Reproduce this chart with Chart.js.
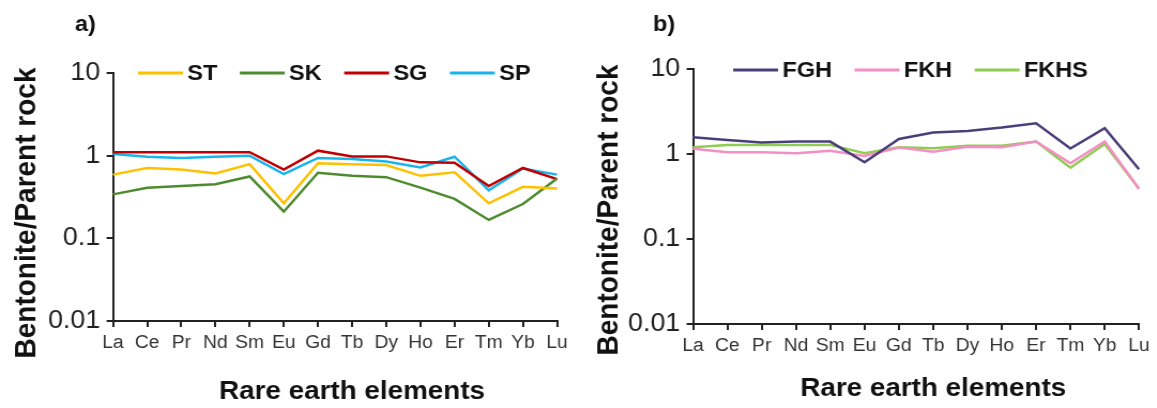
<!DOCTYPE html>
<html>
<head>
<meta charset="utf-8">
<script src="https://cdn.jsdelivr.net/npm/chart.js@4.4.1/dist/chart.umd.min.js"></script>
<style>
  html, body { margin: 0; padding: 0; background: #fff; width: 1157px; height: 408px; overflow: hidden; }
  /* the source figure is slightly stretched sideways, so each panel is drawn a bit narrow and scaled */
  .panel { position: absolute; top: 0; width: 541px; height: 408px; transform: scaleX(1.07); transform-origin: 0 0; }
  #panel-a { left: 0; }
  #panel-b { left: 578px; }
</style>
</head>
<body>
<div class="panel" id="panel-a"><canvas id="chart-a" width="541" height="408"></canvas></div>
<div class="panel" id="panel-b"><canvas id="chart-b" width="541" height="408"></canvas></div>
<script>
const elements = ["La", "Ce", "Pr", "Nd", "Sm", "Eu", "Gd", "Tb", "Dy", "Ho", "Er", "Tm", "Yb", "Lu"];
const yTicks = [0.01, 0.1, 1, 10];

// panel a
const stValues = [0.59, 0.71, 0.68, 0.61, 0.79, 0.265, 0.81, 0.79, 0.77, 0.57, 0.63, 0.265, 0.42, 0.40];
const skValues = [0.34, 0.41, 0.43, 0.45, 0.56, 0.21, 0.62, 0.57, 0.55, 0.41, 0.30, 0.167, 0.26, 0.53];
const sgValues = [1.10, 1.10, 1.10, 1.10, 1.10, 0.68, 1.15, 0.98, 0.98, 0.83, 0.82, 0.43, 0.71, 0.52];
const spValues = [1.05, 0.97, 0.94, 0.97, 1.00, 0.60, 0.94, 0.91, 0.85, 0.72, 0.97, 0.38, 0.70, 0.59];

// panel b
const fghValues = [1.57, 1.46, 1.37, 1.40, 1.40, 0.80, 1.50, 1.79, 1.87, 2.05, 2.30, 1.16, 2.01, 0.66];
const fkhValues = [1.15, 1.05, 1.05, 1.02, 1.09, 0.95, 1.19, 1.06, 1.22, 1.20, 1.40, 0.78, 1.40, 0.39];
const fkhsValues = [1.20, 1.28, 1.28, 1.28, 1.28, 1.02, 1.20, 1.17, 1.25, 1.25, 1.40, 0.69, 1.31, 0.39];

const textFont = "'Liberation Sans', Arial, sans-serif";

const lineLegend = {
  id: "lineLegend",
  afterDraw(chart, args, opts) {
    const ctx = chart.ctx;
    ctx.save();
    ctx.font = "bold 22px " + textFont;
    ctx.textBaseline = "middle";
    let x = opts.x;
    chart.data.datasets.forEach((ds) => {
      ctx.strokeStyle = ds.borderColor;
      ctx.lineWidth = 3;
      ctx.beginPath();
      ctx.moveTo(x, opts.y);
      ctx.lineTo(x + 42, opts.y);
      ctx.stroke();
      x += 46;
      ctx.fillStyle = "#111";
      ctx.fillText(ds.label, x, opts.y + 1);
      x += ctx.measureText(ds.label).width + 21;
    });
    ctx.restore();
  }
};

const panelText = {
  id: "panelText",
  afterDraw(chart, args, opts) {
    const ctx = chart.ctx;
    ctx.save();
    ctx.fillStyle = "#111";
    ctx.textAlign = "left";
    ctx.textBaseline = "middle";
    ctx.font = "bold 22px " + textFont;
    ctx.fillText(opts.label, opts.labelX, 25);

    ctx.textAlign = "center";
    ctx.font = "bold 26px " + textFont;
    ctx.fillText("Rare earth elements", opts.xTitleX, opts.xTitleY);

    ctx.translate(opts.yTitleX, opts.yTitleY);
    ctx.rotate(-Math.PI / 2);
    ctx.font = "bold 28px " + textFont;
    ctx.fillText("Bentonite/Parent rock", 0, 0);
    ctx.restore();
  }
};

function makePanel(canvasId, datasets, box, textOpts, legendOpts) {
  const ctx = document.querySelector(canvasId);
  const data = {
    labels: elements,
    datasets: datasets.map((d) => ({
      label: d.label,
      data: d.values,
      borderColor: d.color,
      backgroundColor: d.color,
      borderWidth: 2.5,
      pointRadius: 0,
      tension: 0,
      fill: false
    }))
  };
  const options = {
    responsive: false,
    animation: false,
    devicePixelRatio: 1,
    layout: {
      padding: { left: 0, top: box.top, right: 541 - box.right, bottom: 0 }
    },
    plugins: {
      legend: { display: false },
      tooltip: { enabled: false },
      lineLegend: legendOpts,
      panelText: textOpts
    },
    scales: {
      x: {
        type: "category",
        offset: false,
        afterFit: (scale) => { scale.height = 408 - box.bottom; },
        grid: { display: true, drawOnChartArea: false, drawTicks: true, tickLength: 6, color: "#222", lineWidth: 2 },
        border: { display: true, color: "#222", width: 2 },
        ticks: {
          autoSkip: false,
          maxRotation: 0,
          padding: 5,
          color: "#333",
          font: { family: textFont, size: 18 }
        }
      },
      y: {
        type: "logarithmic",
        min: 0.01,
        max: 10,
        afterFit: (scale) => { scale.width = box.left; },
        afterBuildTicks: (scale) => { scale.ticks = yTicks.map((v) => ({ value: v })); },
        grid: { display: true, drawOnChartArea: false, drawTicks: true, tickLength: 6, color: "#222", lineWidth: 2 },
        border: { display: true, color: "#222", width: 2 },
        ticks: {
          padding: 6,
          color: "#222",
          font: { family: textFont, size: 25 },
          callback: (value) => String(value)
        }
      }
    }
  };
  return new Chart(ctx, { type: "line", data: data, options: options, plugins: [lineLegend, panelText] });
}

makePanel("#chart-a", [
  { label: "ST", values: stValues, color: "#ffc000" },
  { label: "SK", values: skValues, color: "#4e8b2f" },
  { label: "SG", values: sgValues, color: "#c00000" },
  { label: "SP", values: spValues, color: "#1ab4ec" }
], { left: 105.6, right: 520.6, top: 73, bottom: 321 },
{ label: "a)", labelX: 70, xTitleX: 329, xTitleY: 392, yTitleX: 25, yTitleY: 213 },
{ x: 129, y: 73 });

makePanel("#chart-b", [
  { label: "FGH", values: fghValues, color: "#4b3f7a" },
  { label: "FKH", values: fkhValues, color: "#f48fc3" },
  { label: "FKHS", values: fkhsValues, color: "#8fcc52" }
], { left: 107.5, right: 524.3, top: 69, bottom: 324 },
{ label: "b)", labelX: 70, xTitleX: 332, xTitleY: 389, yTitleX: 29, yTitleY: 210 },
{ x: 145, y: 70 });
</script>
</body>
</html>
